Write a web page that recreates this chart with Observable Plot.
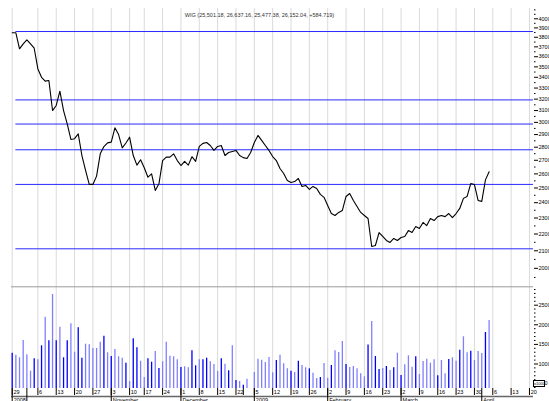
<!DOCTYPE html>
<html><head><meta charset="utf-8">
<script src="https://cdn.jsdelivr.net/npm/d3@7"></script>
<script src="https://cdn.jsdelivr.net/npm/@observablehq/plot@0.6"></script>
<style>
html,body{margin:0;padding:0;background:#fff;overflow:hidden;}
#chart{position:relative;width:549px;height:401px;overflow:hidden;font-family:"Liberation Sans",Arial,sans-serif;}
#chart svg{position:absolute;left:0;overflow:visible;}
#unit{position:absolute;left:533px;top:380px;width:10px;height:5px;border:1px solid #000;background:#fff;font-size:4px;line-height:5px;text-align:center;color:#000;}
</style></head><body><div id="chart"></div>
<script>
// ---------- data ----------
const title = "WIG (25,501.18, 26,637.16, 25,477.38, 26,152.04, +584.719)";
const firstDay = "2008-09-25";
const axisLastDay = "2009-04-24";
const holidays = ["2008-11-11","2008-12-24","2008-12-25","2008-12-26","2009-01-01","2009-01-02"];

const closes = [
38475,38475,36800,37300,37730,37300,36860,34800,34000,33640,
33700,31000,31440,32710,31000,29880,28610,28670,29060,27360,
26250,25250,25250,25840,27490,28050,28340,28400,29550,29000,
27950,28330,28790,27360,26640,27040,26450,25760,26000,24830,
25290,26980,27240,27240,27490,26980,26610,26920,26640,27270,
26920,28060,28300,28370,28130,27750,28060,28130,27360,27590,
27670,27750,27360,27200,27140,27590,28370,28930,28530,28130,
27750,27280,26980,26390,26030,25520,25380,25450,25670,25110,
25180,24900,25110,24970,24560,24360,23820,23290,23160,23360,
23490,24420,24620,24150,23750,23360,23160,22970,21250,21310,
22090,21850,21610,21490,21730,21610,21790,21850,22210,22090,
22460,22340,22720,22520,22970,22840,23090,23160,23090,23290,
23030,23290,23620,24290,24420,25310,25240,24150,24090,25570,
26152];

const volumes = [
1275,1224,1158,1600,1235,816,1133,1107,1464,2194,
1592,2773,1592,1939,1158,1592,2026,1301,1923,1148,
1505,1490,1395,1395,1556,1709,1286,1191,1370,1184,
1148,1020,554,1643,1413,1071,656,1133,1046,1319,
885,1056,1556,1199,1184,1107,911,929,903,1337,
954,1107,1107,1148,1056,987,809,1133,995,826,
1464,579,554,459,613,375,783,1122,1097,1038,
1166,775,1089,1225,1004,876,818,783,1071,962,
903,876,766,630,656,1013,639,962,1336,1293,
1574,987,911,936,876,750,673,1482,2084,1191,
860,885,936,834,903,1276,707,980,1209,918,
1184,732,1064,1122,1020,1107,699,1089,750,1115,
1158,1071,1352,1694,1286,1327,1089,1319,1268,1804,
2110];

// 1 = dark blue bar, 0 = light blue bar
const volumeDark = [
1,0,0,0,0,0,1,0,1,0, 1,0,1,0,1,1,0,0,1,1,
0,0,0,0,0,1,0,1,0,0, 0,1,0,1,1,0,0,1,1,0,
1,0,0,0,0,0,1,0,0,1, 1,0,1,1,0,0,0,1,0,1,
0,1,0,1,0,1,0,0,0,0, 0,0,1,0,0,0,1,0,1,0,
0,1,0,0,1,0,0,1,0,0, 0,1,0,0,0,0,0,1,0,1,
1,0,1,0,1,0,1,0,0,0, 1,0,0,0,0,0,1,0,0,1,
0,0,1,0,0,1,0,0,0,1, 0];

const fibStartDay = "2008-09-26";
const fibLevels = [38610, 31930, 29860, 27800, 25250, 21115];

const priceTicks = [40000,39000,38000,37000,36000,35000,34000,33000,32000,31000,30000,29000,28000,27000,26000,25000,24000,23000,22000,21000,20000];
const priceMinorTicks = [41000,40500,39500,38500,37500,36500,35500,34500,33500,32500,31500,30500,29500,28500,27500,26500,25500,24500,23500,22500,21500,20500,19500];
const volumeTicks = [2500,2000,1500,1000,500];
const volumeMinorTicks = [2900,2800,2700,2600,2400,2300,2200,2100,1900,1800,1700,1600,1400,1300,1200,1100,900,800,700,600,400];
const monthLabels = ["2008","","November","December","2009","February","March","April"];
const hiddenWeekLabels = ["2008-12-29"];
const unitLabel = "x1000";

// ---------- scales ----------
const xDomain = [-0.19, 142.1];
const priceDomain = [19000, 41160];
const volumeDomain = [375, 2969];
const FONT = "'Liberation Sans', Arial, sans-serif";

// trading-day calendar
const parse = d3.utcParse("%Y-%m-%d"), fmt = d3.utcFormat("%Y-%m-%d");
const hol = new Set(holidays);
const days = [];
for (let d = parse(firstDay); d <= parse(axisLastDay); d = d3.utcDay.offset(d, 1)) {
  const wd = d.getUTCDay();
  if (wd === 0 || wd === 6 || hol.has(fmt(d))) continue;
  days.push(d);
}
const idxOf = new Map(days.map((d, i) => [fmt(d), i]));
const data = closes.map((c, i) => ({i, close: c, volume: volumes[i], dark: volumeDark[i] === 1}));

// weekly ticks (Mondays); the first week is drawn at the start of the chart
const mondays = days.map((d, i) => ({d, i})).filter(o => o.d.getUTCDay() === 1);
const weekTicks = mondays.map((o, k) => ({
  i: k === 0 ? 0 : o.i,
  label: hiddenWeekLabels.includes(fmt(o.d)) ? "" : String(o.d.getUTCDate()),
  grid: !hiddenWeekLabels.includes(fmt(o.d))
})).filter(o => o.i <= xDomain[1]);
const gridIdx = weekTicks.filter(o => o.grid).map(o => o.i);

// month boundaries
const monthTicks = [{i: 0}];
days.forEach((d, i) => { if (i > 0 && d.getUTCMonth() !== days[i-1].getUTCMonth() && i <= 131) monthTicks.push({i}); });
monthTicks.forEach((o, k) => o.label = monthLabels[k] || "");

const style = {fontFamily: FONT, fontSize: "5.5px", background: "transparent", overflow: "visible"};
const GRID = "#dadada";

const priceChart = Plot.plot({
  width: 549, height: 287,
  marginTop: 8, marginBottom: 0.7, marginLeft: 11, marginRight: 16,
  x: {type: "linear", domain: xDomain, axis: null},
  y: {type: "log", domain: priceDomain, label: null},
  style,
  marks: [
    Plot.ruleX(gridIdx, {stroke: GRID, strokeWidth: 1}),
    Plot.ruleY(fibLevels, {x1: idxOf.get(fibStartDay), x2: xDomain[1], stroke: "#2a2aff", strokeWidth: 1}),
    Plot.line(data, {x: "i", y: "close", stroke: "#000", strokeWidth: 1.1}),
    Plot.axisY({anchor: "right", ticks: priceMinorTicks, tickSize: 1.5, tickFormat: () => "", color: "#000"}),
    Plot.axisY({anchor: "right", ticks: priceTicks, tickSize: 4, tickPadding: 1, tickFormat: d => String(d), color: "#000", fontSize: 5.5}),
    Plot.text([title], {frameAnchor: "top", dx: -13, dy: 6.3, lineAnchor: "middle", fontSize: 5.5, fill: "#333"})
  ]
});
priceChart.style.top = "0px";

const volumeChart = Plot.plot({
  width: 549, height: 115,
  marginTop: 0.3, marginBottom: 13, marginLeft: 11, marginRight: 16,
  x: {type: "linear", domain: xDomain, label: null},
  y: {domain: volumeDomain, label: null},
  style,
  marks: [
    Plot.ruleX(gridIdx, {stroke: GRID, strokeWidth: 1}),
    Plot.ruleY([volumeDomain[1]], {stroke: "#9a9a9a"}),
    Plot.ruleX(data.filter(d => !d.dark), {x: "i", y1: volumeDomain[0], y2: "volume", stroke: "#8080ff", strokeWidth: 1.3}),
    Plot.ruleX(data.filter(d => d.dark), {x: "i", y1: volumeDomain[0], y2: "volume", stroke: "#0000ff", strokeWidth: 1.3}),
    Plot.axisY({anchor: "right", ticks: volumeMinorTicks, tickSize: 1.5, tickFormat: () => "", color: "#000"}),
    Plot.axisY({anchor: "right", ticks: volumeTicks, tickSize: 4, tickPadding: 1, tickFormat: d => String(d), color: "#000", fontSize: 5.5}),
    Plot.ruleY([volumeDomain[0]], {dy: 8, stroke: "#666", strokeWidth: 1.6}),
    Plot.axisX({ticks: weekTicks.map(o => o.i), tickSize: 7, tickFormat: () => "", color: "#000"}),
    Plot.axisX({ticks: monthTicks.map(o => o.i), tickSize: 13, tickFormat: () => "", color: "#000"}),
    Plot.text(weekTicks, {x: "i", text: "label", frameAnchor: "bottom", dy: 3.7, dx: 1.2, textAnchor: "start", lineAnchor: "middle", fontSize: 5.5, fill: "#000"}),
    Plot.text(monthTicks, {x: "i", text: "label", frameAnchor: "bottom", dy: 9.4, dx: 1.5, textAnchor: "start", lineAnchor: "top", fontSize: 5.5, fill: "#000"})
  ]
});
volumeChart.style.top = "286px";

const root = document.getElementById("chart");
root.append(priceChart, volumeChart);
const unit = document.createElement("div");
unit.id = "unit"; unit.textContent = unitLabel;
root.append(unit);
</script></body></html>
